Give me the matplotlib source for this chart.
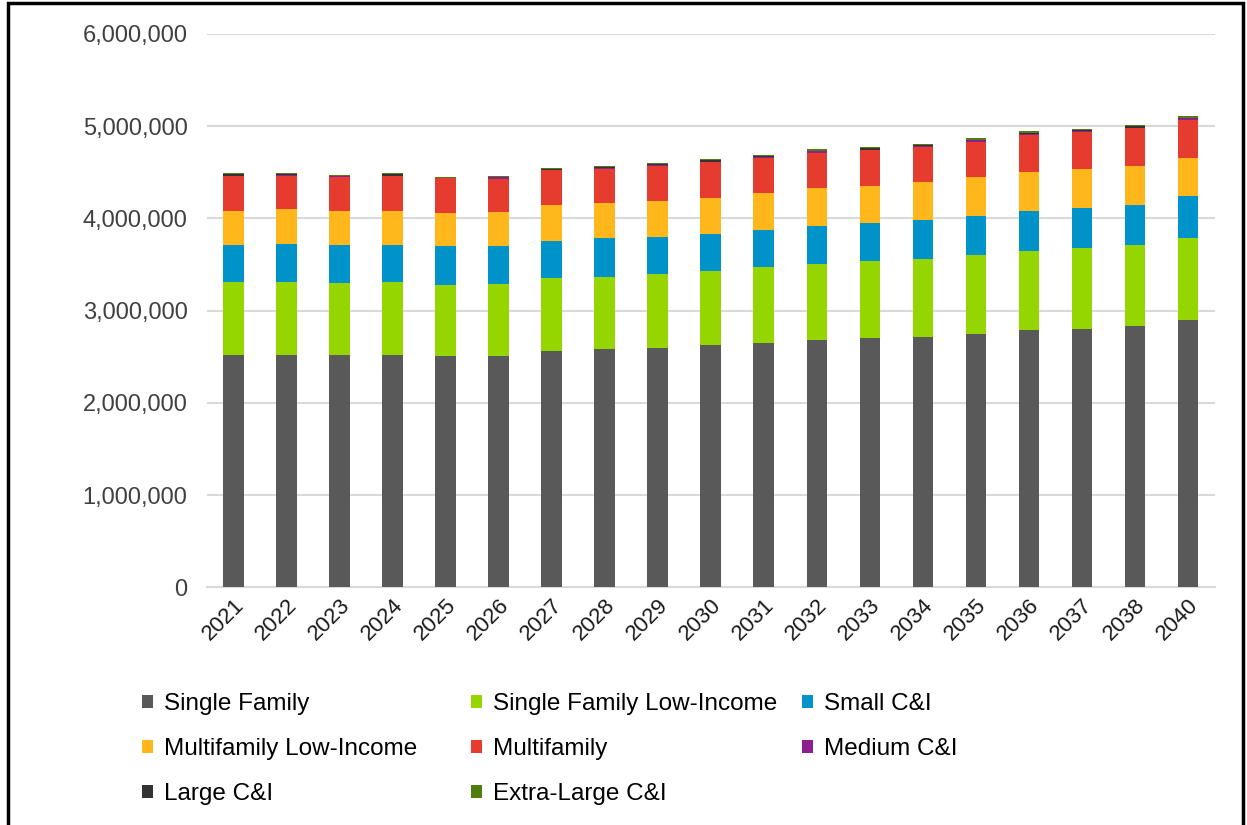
"""Stacked bar chart of participants by sector, 2021-2040."""

import matplotlib as mpl
import matplotlib.pyplot as plt
import numpy as np
from matplotlib.patches import Rectangle
from matplotlib.ticker import FuncFormatter

mpl.rc('font', family=['Liberation Sans', 'DejaVu Sans'])

years = ['2021', '2022', '2023', '2024', '2025', '2026', '2027', '2028', '2029',
         '2030', '2031', '2032', '2033', '2034', '2035', '2036', '2037', '2038',
         '2040']

single_family = [2519000, 2519000, 2519000, 2515000, 2504000, 2504000, 2566000,
                 2580000, 2595000, 2624000, 2653000, 2685000, 2700000, 2715000,
                 2743000, 2790000, 2805000, 2834000, 2895000]
single_family_li = [788000, 788000, 777000, 792000, 775000, 789000, 789000,
                    789000, 806000, 807000, 824000, 822000, 835000, 849000,
                    864000, 861000, 878000, 879000, 894000]
small_ci = [406000, 420000, 417000, 406000, 419000, 405000, 404000, 420000,
            402000, 401000, 402000, 415000, 420000, 420000, 420000, 434000,
            434000, 434000, 448000]
multifamily_li = [372000, 376000, 372000, 372000, 358000, 373000, 388000,
                  372000, 387000, 387000, 401000, 402000, 398000, 405000,
                  416000, 420000, 416000, 415000, 415000]
multifamily = [372000, 351000, 358000, 372000, 376000, 357000, 372000, 376000,
               376000, 390000, 372000, 387000, 386000, 383000, 383000, 401000,
               402000, 416000, 417000]
medium_ci = [3000, 16000, 14000, 3000, 2000, 15000, 3000, 12000, 15000, 3000,
             17000, 18000, 4000, 17000, 19000, 4000, 16000, 4000, 18000]
large_ci = [19000, 6000, 5000, 19000, 5000, 4000, 16000, 4000, 4000, 16000,
            5000, 6000, 20000, 4000, 8000, 20000, 5000, 21000, 6000]
xlarge_ci = [11000, 14000, 10000, 11000, 4000, 10000, 10000, 9000, 10000,
             10000, 11000, 12000, 13000, 11000, 13000, 12000, 11000, 12000,
             12000]

names = ['Single Family', 'Single Family Low-Income', 'Small C&I',
         'Multifamily Low-Income', 'Multifamily', 'Medium C&I', 'Large C&I',
         'Extra-Large C&I']
series = [single_family, single_family_li, small_ci, multifamily_li,
          multifamily, medium_ci, large_ci, xlarge_ci]
colors = ['#595959', '#95d600', '#0093c9', '#ffb71b', '#e63c2f', '#8e1f91',
          '#333333', '#4f7d0f']

fig = plt.figure(figsize=(12.47, 8.25), dpi=100, facecolor='white')
ax = fig.add_axes([0.166, 0.288, 0.808, 0.671])

x = np.arange(len(years))
bottom = np.zeros(len(years))
handles = []
for name, vals, color in zip(names, series, colors):
    vals = np.array(vals, dtype=float)
    bars = ax.bar(x, vals, 0.39, bottom=bottom, color=color, label=name,
                  linewidth=0, zorder=3)
    handles.append(bars)
    bottom += vals

ax.set_xlim(-0.5, len(years) - 0.5)
ax.set_ylim(0, 6000000)
ax.set_yticks(np.arange(0, 6000001, 1000000))
ax.yaxis.set_major_formatter(FuncFormatter(lambda v, p: f'{v:,.0f}'))
ax.grid(axis='y', color='#d9d9d9', linewidth=1.5, zorder=0)
for side in ['left', 'right', 'top']:
    ax.spines[side].set_visible(False)
ax.spines['bottom'].set_color('#d9d9d9')
ax.spines['bottom'].set_linewidth(1.5)
ax.tick_params(axis='both', length=0)
ax.tick_params(axis='y', labelsize=17, labelcolor='#404040', pad=14)
ax.set_xticks(x)
ax.set_xticklabels(years, rotation=45, ha='right', rotation_mode='anchor',
                   fontsize=16, color='#1a1a1a')
ax.tick_params(axis='x', pad=5)

# Excel style legend: three fixed-width columns.
cols = [[0, 3, 6], [1, 4, 7], [2, 5]]
col_x = [0.114, 0.378, 0.643]
for idx, cx in zip(cols, col_x):
    fig.legend([handles[i] for i in idx], [names[i] for i in idx],
               loc='upper left', bbox_to_anchor=(cx, 0.16), frameon=False,
               fontsize=17.5, handlelength=0.45, handleheight=0.45,
               handletextpad=0.45, labelspacing=0.95, borderpad=0,
               borderaxespad=0)

# Outer frame of the exported picture.
fig.patches.append(Rectangle((0.0065, -0.05), 0.9905, 1.046, fill=False,
                             edgecolor='black', linewidth=2.5,
                             transform=fig.transFigure, figure=fig))

plt.savefig('out.png', dpi=100, facecolor='white')
